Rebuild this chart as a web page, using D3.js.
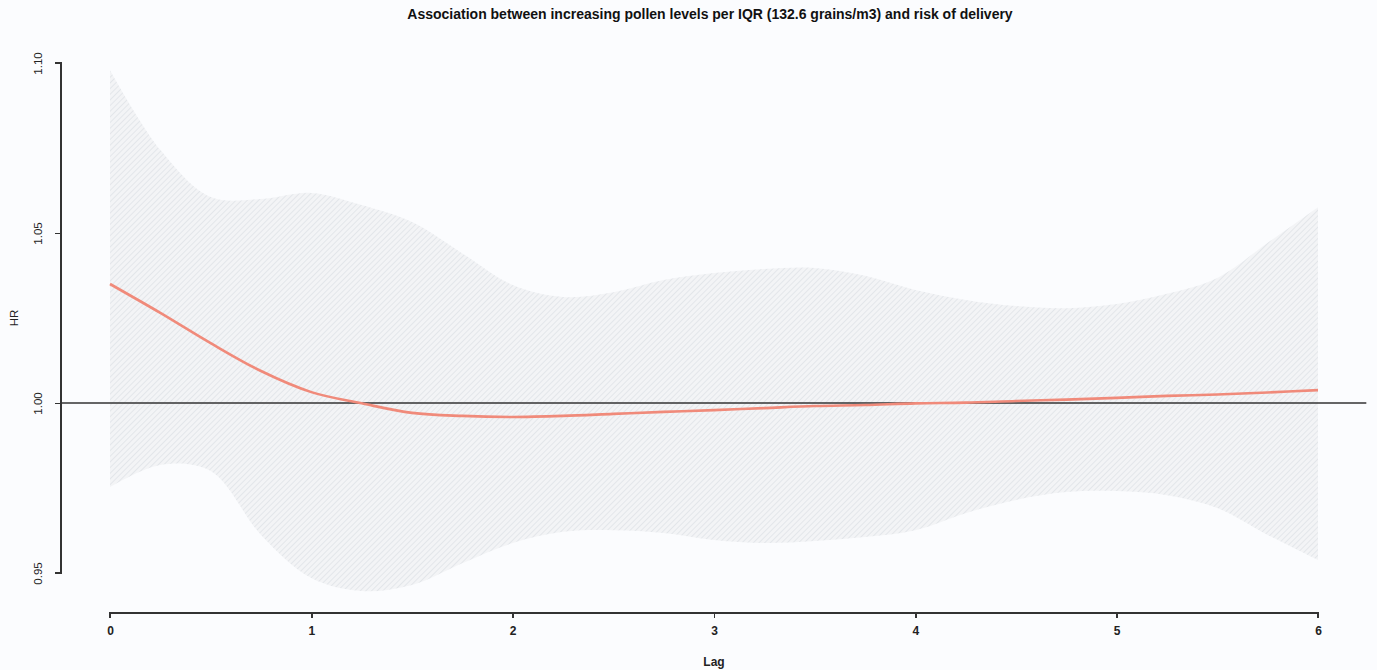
<!DOCTYPE html>
<html>
<head>
<meta charset="utf-8">
<script src="https://cdn.jsdelivr.net/npm/d3@7"></script>
<style>
  html, body { margin: 0; padding: 0; background: #fbfcfe; }
  svg { display: block; font-family: "Liberation Sans", Arial, sans-serif; }
</style>
</head>
<body>
<svg id="chart" width="1377" height="670"></svg>
<script>
const title = "Association between increasing pollen levels per IQR (132.6 grains/m3) and risk of delivery";
const lags = [0, 0.25, 0.5, 0.75, 1, 1.25, 1.5, 1.75, 2, 2.25, 2.5, 2.75, 3, 3.25, 3.5, 3.75, 4, 4.25, 4.5, 4.75, 5, 5.25, 5.5, 5.75, 6];
const hr = [1.0350, 1.0265, 1.0176, 1.0094, 1.0032, 0.9999, 0.9971, 0.9962, 0.9959, 0.9962, 0.9968, 0.9974, 0.9979, 0.9985, 0.9991, 0.9994, 0.9999, 1.0001, 1.0006, 1.0010, 1.0015, 1.0021, 1.0025, 1.0031, 1.0038];
const upper = [1.0979, 1.0745, 1.0606, 1.0600, 1.0618, 1.0582, 1.0532, 1.0440, 1.0347, 1.0312, 1.0326, 1.0362, 1.0382, 1.0394, 1.0397, 1.0374, 1.0332, 1.0303, 1.0285, 1.0279, 1.0291, 1.0321, 1.0368, 1.0471, 1.0576];
const lower = [0.9753, 0.9818, 0.9800, 0.9612, 0.9485, 0.9447, 0.9465, 0.9529, 0.9588, 0.9621, 0.9626, 0.9618, 0.9597, 0.9588, 0.9594, 0.9606, 0.9626, 0.9676, 0.9715, 0.9738, 0.9741, 0.9729, 0.9691, 0.9612, 0.9538];
const xTicks = [0, 1, 2, 3, 4, 5, 6];
const yTicks = [0.95, 1.00, 1.05, 1.10];
const refValue = 1;

const svg = d3.select("#chart");
const x = d3.scaleLinear().domain([0, 6]).range([110, 1318]);
const y = d3.scaleLinear().domain([0.95, 1.10]).range([573, 63]);
const curve = d3.curveCatmullRom.alpha(0.5);

// hatch pattern
const defs = svg.append("defs");
const pat = defs.append("pattern")
  .attr("id", "hatch").attr("patternUnits", "userSpaceOnUse")
  .attr("width", 4).attr("height", 4)
  .attr("patternTransform", "rotate(45)");
pat.append("rect").attr("width", 4).attr("height", 4).attr("fill", "#f3f4f6");
pat.append("line").attr("x1", 0).attr("y1", 0).attr("x2", 0).attr("y2", 4)
  .attr("stroke", "#e0e3e7").attr("stroke-width", 1.6);

const data = lags.map((l, i) => ({ l, m: hr[i], u: upper[i], lo: lower[i] }));

svg.append("path")
  .datum(data)
  .attr("fill", "url(#hatch)")
  .attr("d", d3.area().x(d => x(d.l)).y0(d => y(d.lo)).y1(d => y(d.u)).curve(curve));

// reference line across plot region (R usr extends 4%)
svg.append("line")
  .attr("x1", x(-0.24)).attr("x2", x(6.24))
  .attr("y1", y(refValue)).attr("y2", y(refValue))
  .attr("stroke", "#333").attr("stroke-width", 1.6);

svg.append("path")
  .datum(data)
  .attr("fill", "none")
  .attr("stroke", "#f08a7a")
  .attr("stroke-width", 2.6)
  .attr("d", d3.line().x(d => x(d.l)).y(d => y(d.m)).curve(curve));

// y axis
const yAxis = svg.append("g").attr("transform", "translate(61,0)")
  .call(d3.axisLeft(y).tickValues(yTicks).tickFormat(d3.format(".2f")).tickSize(6).tickPadding(0));
yAxis.select(".domain").attr("stroke", "#333").attr("stroke-width", 1.4).attr("d", `M-6,${y(1.10)}H0V${y(0.95)}H-6`);
yAxis.selectAll(".tick line").attr("stroke", "#333").attr("stroke-width", 1.4);
yAxis.selectAll(".tick text")
  .attr("x", 0).attr("dy", 0)
  .attr("transform", "translate(-19,0) rotate(-90)")
  .attr("text-anchor", "middle")
  .attr("fill", "#222").attr("font-size", 11.5);

// x axis
const xAxis = svg.append("g").attr("transform", "translate(0,613)")
  .call(d3.axisBottom(x).tickValues(xTicks).tickFormat(d3.format("d")).tickSize(5).tickPadding(8));
xAxis.select(".domain").attr("stroke", "#333").attr("stroke-width", 1.4).attr("d", `M${x(0)},5V0H${x(6)}V5`);
xAxis.selectAll(".tick line").attr("stroke", "#333").attr("stroke-width", 1.4);
xAxis.selectAll(".tick text").attr("fill", "#222").attr("font-size", 12).attr("font-weight", "bold");

svg.selectAll(".domain, .tick line").attr("shape-rendering", "crispEdges");

// labels
svg.append("text").attr("x", 710).attr("y", 19).attr("text-anchor", "middle")
  .attr("font-size", 14).attr("font-weight", "bold").attr("fill", "#111").text(title);
svg.append("text").attr("x", x(3)).attr("y", 666).attr("text-anchor", "middle")
  .attr("font-size", 12).attr("font-weight", "bold").attr("fill", "#222").text("Lag");
svg.append("text").attr("transform", `translate(18,${y(1.025)}) rotate(-90)`).attr("text-anchor", "middle")
  .attr("font-size", 11.5).attr("fill", "#222").text("HR");
</script>
</body>
</html>
